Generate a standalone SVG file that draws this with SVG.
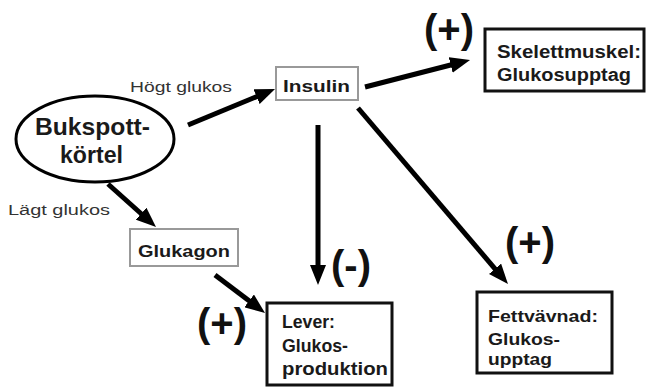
<svg xmlns="http://www.w3.org/2000/svg" width="647" height="387" viewBox="0 0 647 387">
<style>
.bt{font-family:"Liberation Sans",Arial,sans-serif;font-weight:bold;fill:#1a1a1a}
.lb{font-family:"Liberation Sans",Arial,sans-serif;font-size:14px;fill:#333}
.sg{font-family:"Liberation Sans",Arial,sans-serif;font-weight:bold;font-size:40px;fill:#111;text-anchor:middle}
.thin{fill:#fff;stroke:#999;stroke-width:2}
.thick{fill:#fff;stroke:#111;stroke-width:3}
.ar{stroke:#000;stroke-width:5;fill:none;marker-end:url(#ah)}
</style>
<defs>
<marker id="ah" viewBox="0 0 20 16" refX="2" refY="8" markerWidth="20" markerHeight="16" markerUnits="userSpaceOnUse" orient="auto">
<path d="M0,0 L20,8 L0,16 z" fill="#000"/>
</marker>
</defs>
<rect width="647" height="387" fill="#fff"/>
<g id="connectors">
<line class="ar" x1="188" y1="125" x2="258.4" y2="95.9"/>
<line class="ar" x1="108" y1="184" x2="142.6" y2="215"/>
<line class="ar" x1="365" y1="87" x2="452.6" y2="64.5"/>
<line class="ar" x1="318" y1="125" x2="318" y2="267"/>
<line class="ar" x1="358" y1="108" x2="496.3" y2="270.3"/>
<line class="ar" x1="215" y1="275" x2="250.7" y2="302.1"/>
</g>
<g id="labels">
<text class="lb" x="130" y="92" textLength="102" lengthAdjust="spacingAndGlyphs">Högt glukos</text>
<text class="lb" x="8" y="215" textLength="102" lengthAdjust="spacingAndGlyphs">Lägt glukos</text>
<text class="sg" x="449" y="43">(+)</text>
<text class="sg" x="351" y="279">(-)</text>
<text class="sg" x="222" y="337">(+)</text>
<text class="sg" x="530" y="256">(+)</text>
</g>
<g id="bukspottkortel">
<ellipse cx="95" cy="139" rx="79" ry="43" fill="#fff" stroke="#000" stroke-width="3"/>
<text class="bt" font-size="24" x="35" y="135" textLength="115" lengthAdjust="spacingAndGlyphs">Bukspott-</text>
<text class="bt" font-size="24" x="60" y="163" textLength="63" lengthAdjust="spacingAndGlyphs">körtel</text>
</g>
<g id="insulin">
<rect class="thin" x="276" y="67" width="82" height="33"/>
<text class="bt" font-size="17" x="283" y="92" textLength="67" lengthAdjust="spacingAndGlyphs">Insulin</text>
</g>
<g id="glukagon">
<rect class="thin" x="130" y="229" width="108" height="37"/>
<text class="bt" font-size="17" x="138" y="257" textLength="92" lengthAdjust="spacingAndGlyphs">Glukagon</text>
</g>
<g id="skelettmuskel">
<rect class="thick" x="485" y="29" width="159" height="62"/>
<text class="bt" font-size="18" x="497" y="58" textLength="144" lengthAdjust="spacingAndGlyphs">Skelettmuskel:</text>
<text class="bt" font-size="18" x="497" y="81" textLength="134" lengthAdjust="spacingAndGlyphs">Glukosupptag</text>
</g>
<g id="lever">
<rect class="thick" x="267" y="303" width="125" height="82"/>
<text class="bt" font-size="18" x="282" y="328" textLength="53" lengthAdjust="spacingAndGlyphs">Lever:</text>
<text class="bt" font-size="18" x="282" y="352" textLength="66" lengthAdjust="spacingAndGlyphs">Glukos-</text>
<text class="bt" font-size="18" x="282" y="375" textLength="106" lengthAdjust="spacingAndGlyphs">produktion</text>
</g>
<g id="fettvavnad">
<rect class="thick" x="477" y="292" width="135" height="81"/>
<text class="bt" font-size="17" x="488" y="322" textLength="110" lengthAdjust="spacingAndGlyphs">Fettvävnad:</text>
<text class="bt" font-size="17" x="488" y="345" textLength="72" lengthAdjust="spacingAndGlyphs">Glukos-</text>
<text class="bt" font-size="17" x="488" y="365" textLength="64" lengthAdjust="spacingAndGlyphs">upptag</text>
</g>
</svg>
